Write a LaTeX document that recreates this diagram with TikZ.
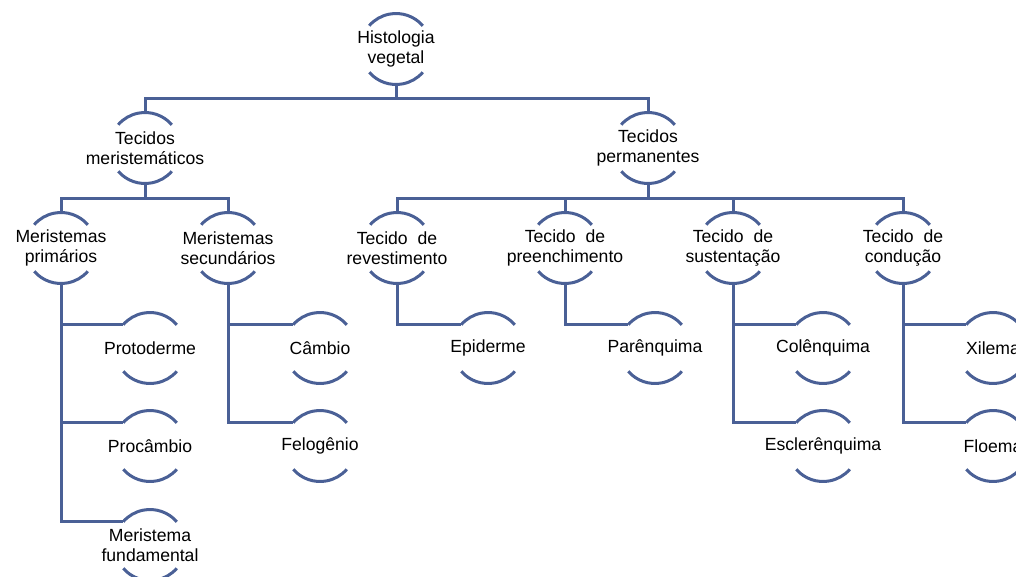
\documentclass[tikz,border=0pt]{standalone}
\usepackage{fontspec}
\setmainfont{Liberation Sans}
\usetikzlibrary{calc}
\definecolor{linec}{RGB}{74,96,150}
\begin{document}
\begin{tikzpicture}[x=1pt,y=-1pt,
  conn/.style={draw=linec, line width=3pt, line join=miter},
  arcline/.style={draw=linec, line width=3pt},
  tissue/.style={circle, minimum size=71pt, inner sep=0pt, outer sep=0pt,
    label={[font=\fontsize{17.6}{20}\selectfont, align=center, text=black]center:#1}},
]
\useasboundingbox (0,0) rectangle (1016,576);
\clip (0,0) rectangle (1016,576);

% root
\node[tissue={Histologia\\vegetal}] (hv) at (396,49) {};

% second level
\node[tissue={Tecidos\\meristemáticos}] (tm) at (145,148) {};
\node[tissue={Tecidos\\permanentes}] (tp) at (648,148) {};

% third level
\node[tissue={Meristemas\\primários}] (mp) at (61,248) {};
\node[tissue={Meristemas\\secundários}] (ms) at (228,248) {};
\node[tissue={Tecido\ \ de\\revestimento}] (tr) at (397,248) {};
\node[tissue={Tecido\ \ de\\preenchimento}] (tpr) at (565,248) {};
\node[tissue={Tecido\ \ de\\sustentação}] (ts) at (733,248) {};
\node[tissue={Tecido\ \ de\\condução}] (tc) at (903,248) {};

% leaves
\node[tissue={Protoderme}] (pd) at (150,348) {};
\node[tissue={Procâmbio}] (pc) at (150,446) {};
\node[tissue={Meristema\\fundamental}] (mf) at (150,545) {};
\node[tissue={Câmbio}] (cb) at (320,348) {};
\node[tissue={Felogênio}] (fg) at (320,446) {};
\node[tissue={Epiderme}] (ep) at (488,348) {};
\node[tissue={Parênquima}] (pq) at (655,348) {};
\node[tissue={Colênquima}] (cl) at (823,348) {};
\node[tissue={Esclerênquima}] (es) at (823,446) {};
\node[tissue={Xilema}] (xi) at (993,348) {};
\node[tissue={Floema}] (fl) at (993,446) {};

% upper and lower arcs framing every label
\foreach \n in {hv,tm,tp,mp,ms,tr,tpr,ts,tc,pd,pc,mf,cb,fg,ep,pq,cl,es,xi,fl}{
  \draw[arcline] (\n.41) arc[start angle=41, end angle=139, radius=35.5pt];
  \draw[arcline] (\n.221) arc[start angle=221, end angle=319, radius=35.5pt];
}

% junction levels of the bracket connectors
\coordinate (j0) at (hv.south |- 0,98);
\coordinate (j1) at (tm.south |- 0,198);
\coordinate (j2) at (tp.south |- 0,198);

\draw[conn] (hv.south) -- (j0);
\draw[conn] (tm.north) |- (j0) -| (tp.north);

\draw[conn] (tm.south) -- (j1);
\draw[conn] (mp.north) |- (j1) -| (ms.north);

\draw[conn] (tp.south) -- (j2);
\draw[conn] (tr.north) |- (j2) -| (tc.north);
\draw[conn] (tpr.north) -- (tpr.north |- j2);
\draw[conn] (ts.north) -- (ts.north |- j2);

% branches to the leaves
\draw[conn] (mp.south) |- (mf.139);
\draw[conn] (mp.south |- pd.139) -- (pd.139);
\draw[conn] (mp.south |- pc.139) -- (pc.139);
\draw[conn] (ms.south) |- (fg.139);
\draw[conn] (ms.south |- cb.139) -- (cb.139);
\draw[conn] (tr.south) |- (ep.139);
\draw[conn] (tpr.south) |- (pq.139);
\draw[conn] (ts.south) |- (es.139);
\draw[conn] (ts.south |- cl.139) -- (cl.139);
\draw[conn] (tc.south) |- (fl.139);
\draw[conn] (tc.south |- xi.139) -- (xi.139);
\end{tikzpicture}
\end{document}
